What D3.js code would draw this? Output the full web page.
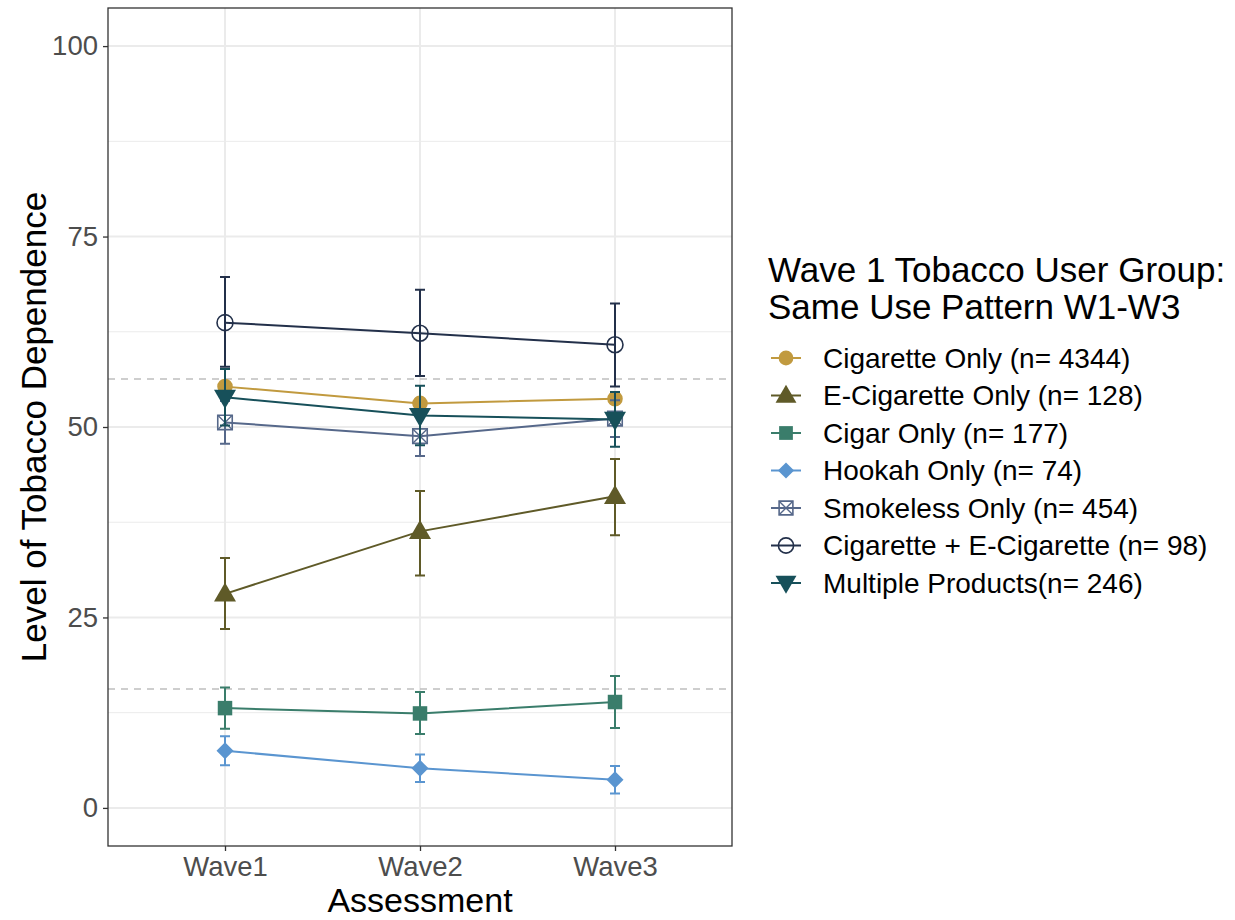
<!DOCTYPE html>
<html>
<head>
<meta charset="utf-8">
<script src="https://cdn.jsdelivr.net/npm/d3@7"></script>
<style>
  body { margin: 0; background: #fff; }
  svg { font-family: "Liberation Sans", Arial, sans-serif; }
</style>
</head>
<body>
<svg id="chart" width="1235" height="920"></svg>
<script>
// Data
var waves = ["Wave1", "Wave2", "Wave3"];
var groups = [
  "Cigarette Only (n= 4344)",
  "E-Cigarette Only (n= 128)",
  "Cigar Only (n= 177)",
  "Hookah Only (n= 74)",
  "Smokeless Only (n= 454)",
  "Cigarette + E-Cigarette (n= 98)",
  "Multiple Products(n= 246)"
];
var means = [
  [55.3, 53.1, 53.7],
  [28.1, 36.3, 40.9],
  [13.1, 12.4, 13.9],
  [7.5, 5.2, 3.7],
  [50.6, 48.8, 51.1],
  [63.7, 62.3, 60.8],
  [53.9, 51.5, 51.0]
];
var lower = [
  [54.7, 52.5, 53.1],
  [23.5, 30.5, 35.8],
  [10.4, 9.7, 10.5],
  [5.6, 3.4, 1.9],
  [47.8, 46.2, 48.7],
  [57.9, 56.7, 55.3],
  [50.2, 47.6, 47.4]
];
var upper = [
  [55.9, 53.7, 54.3],
  [32.8, 41.6, 45.8],
  [15.8, 15.2, 17.3],
  [9.4, 7.0, 5.5],
  [53.4, 51.4, 53.5],
  [69.7, 68.0, 66.2],
  [57.6, 55.4, 54.6]
];
var refLines = [56.3, 15.6];
var yTicks = [0, 25, 50, 75, 100];
var yMinor = [12.5, 37.5, 62.5, 87.5];

var colors = ["#C19A3F", "#5F5A28", "#3A7D6B", "#5A95D0", "#56688A", "#23304A", "#17505A"];
var shapes = ["circle", "triangle", "square", "diamond", "squarecross", "opencircle", "triangledown"];

var svg = d3.select("#chart");
var panel = { left: 108, right: 732, top: 8, bottom: 846 };

var x = d3.scalePoint().domain(waves).range([panel.left, panel.right]).padding(0.6);
var y = d3.scaleLinear().domain([-5, 105]).range([panel.bottom, panel.top]);

// panel grid
var grid = svg.append("g");
grid.selectAll(".minor").data(yMinor).enter().append("line")
  .attr("x1", panel.left).attr("x2", panel.right)
  .attr("y1", function (d) { return y(d); }).attr("y2", function (d) { return y(d); })
  .style("stroke", "#EBEBEB").style("stroke-width", 1);
grid.selectAll(".major").data(yTicks).enter().append("line")
  .attr("x1", panel.left).attr("x2", panel.right)
  .attr("y1", function (d) { return y(d); }).attr("y2", function (d) { return y(d); })
  .style("stroke", "#EBEBEB").style("stroke-width", 2);
grid.selectAll(".vmajor").data(waves).enter().append("line")
  .attr("y1", panel.top).attr("y2", panel.bottom)
  .attr("x1", function (d) { return x(d); }).attr("x2", function (d) { return x(d); })
  .style("stroke", "#EBEBEB").style("stroke-width", 2);

// reference dashed lines
svg.selectAll(".ref").data(refLines).enter().append("line")
  .attr("x1", panel.left).attr("x2", panel.right)
  .attr("y1", function (d) { return y(d); }).attr("y2", function (d) { return y(d); })
  .style("stroke", "#BEBEBE").style("stroke-width", 1.5).style("stroke-dasharray", "7,6");

function symbolPath(shape, s) {
  switch (shape) {
    case "circle": return d3.symbol(d3.symbolCircle, 190 * s * s)();
    case "opencircle": return d3.symbol(d3.symbolCircle, 200 * s * s)();
    case "square": case "squarecross": return d3.symbol(d3.symbolSquare, 210 * s * s)();
    case "diamond":
      var r = 8.5 * s;
      return "M0," + (-r) + "L" + r + ",0L0," + r + "L" + (-r) + ",0Z";
    case "triangle":
      var w = 11 * s, h = 19 * s;
      return "M0," + (-h * 0.6) + "L" + w + "," + (h * 0.4) + "L" + (-w) + "," + (h * 0.4) + "Z";
    case "triangledown":
      var w2 = 11 * s, h2 = 19 * s;
      return "M0," + (h2 * 0.6) + "L" + w2 + "," + (-h2 * 0.4) + "L" + (-w2) + "," + (-h2 * 0.4) + "Z";
  }
}

function drawSymbol(g, shape, color, s) {
  var p = g.append("path").attr("d", symbolPath(shape, s));
  if (shape === "opencircle" || shape === "squarecross") {
    p.style("fill", "none").style("stroke", color).style("stroke-width", 1.6);
    if (shape === "squarecross") {
      var h = 7.2 * s;
      g.append("path").attr("d", "M" + (-h) + "," + (-h) + "L" + h + "," + h + "M" + h + "," + (-h) + "L" + (-h) + "," + h)
        .style("stroke", color).style("stroke-width", 1.4).style("fill", "none");
    }
  } else {
    p.style("fill", color);
  }
}

var line = d3.line()
  .x(function (d, i) { return x(waves[i]); })
  .y(function (d) { return y(d); });

var series = svg.selectAll(".series").data(groups).enter().append("g").attr("class", "series");

series.each(function (g, k) {
  var sel = d3.select(this);
  sel.append("path").datum(means[k]).attr("d", line)
    .style("fill", "none").style("stroke", colors[k]).style("stroke-width", 2);
  waves.forEach(function (w, i) {
    var cx = x(w), cap = 5;
    sel.append("path")
      .attr("d", "M" + (cx - cap) + "," + y(upper[k][i]) + "H" + (cx + cap) +
        "M" + cx + "," + y(upper[k][i]) + "V" + y(lower[k][i]) +
        "M" + (cx - cap) + "," + y(lower[k][i]) + "H" + (cx + cap))
      .style("fill", "none").style("stroke", colors[k]).style("stroke-width", 2);
  });
});
series.each(function (g, k) {
  var sel = d3.select(this);
  waves.forEach(function (w, i) {
    var m = sel.append("g").attr("transform", "translate(" + x(w) + "," + y(means[k][i]) + ")");
    drawSymbol(m, shapes[k], colors[k], 1);
  });
});

// panel border
svg.append("rect").attr("x", panel.left).attr("y", panel.top)
  .attr("width", panel.right - panel.left).attr("height", panel.bottom - panel.top)
  .style("fill", "none").style("stroke", "#333333").style("stroke-width", 1.3);

// axes
var yAxis = svg.append("g").attr("transform", "translate(" + panel.left + ",0)")
  .call(d3.axisLeft(y).tickValues(yTicks).tickSize(5).tickPadding(5));
var xAxis = svg.append("g").attr("transform", "translate(0," + panel.bottom + ")")
  .call(d3.axisBottom(x).tickSize(5).tickPadding(5));
[xAxis, yAxis].forEach(function (a) {
  a.select(".domain").remove();
  a.selectAll(".tick line").style("stroke", "#333333").style("stroke-width", 1.3);
  a.selectAll(".tick text").style("fill", "#4D4D4D").style("font-size", "27.5px")
    .style("font-family", "Liberation Sans, Arial, sans-serif");
});

svg.append("text").attr("x", (panel.left + panel.right) / 2).attr("y", 912)
  .attr("text-anchor", "middle").style("font-size", "34px").text("Assessment");
svg.append("text").attr("transform", "translate(46," + (panel.top + panel.bottom) / 2 + ") rotate(-90)")
  .attr("text-anchor", "middle").style("font-size", "35px").text("Level of Tobacco Dependence");

// legend
var legend = svg.append("g").attr("transform", "translate(768,0)");
legend.append("text").attr("x", 0).attr("y", 282).style("font-size", "35px").text("Wave 1 Tobacco User Group:");
legend.append("text").attr("x", 0).attr("y", 319).style("font-size", "35px").text("Same Use Pattern W1-W3");

var items = legend.selectAll(".item").data(groups).enter().append("g")
  .attr("transform", function (d, i) { return "translate(0," + (358 + i * 37.5) + ")"; });
items.each(function (g, k) {
  var sel = d3.select(this);
  sel.append("line").attr("x1", 3).attr("x2", 33).style("stroke", colors[k]).style("stroke-width", 2);
  var m = sel.append("g").attr("transform", "translate(18,0)");
  drawSymbol(m, shapes[k], colors[k], 0.95);
  sel.append("text").attr("x", 55).attr("y", 0).attr("dy", "0.35em")
    .style("font-size", "28px").style("fill", "#000").text(g);
});
</script>
</body>
</html>
